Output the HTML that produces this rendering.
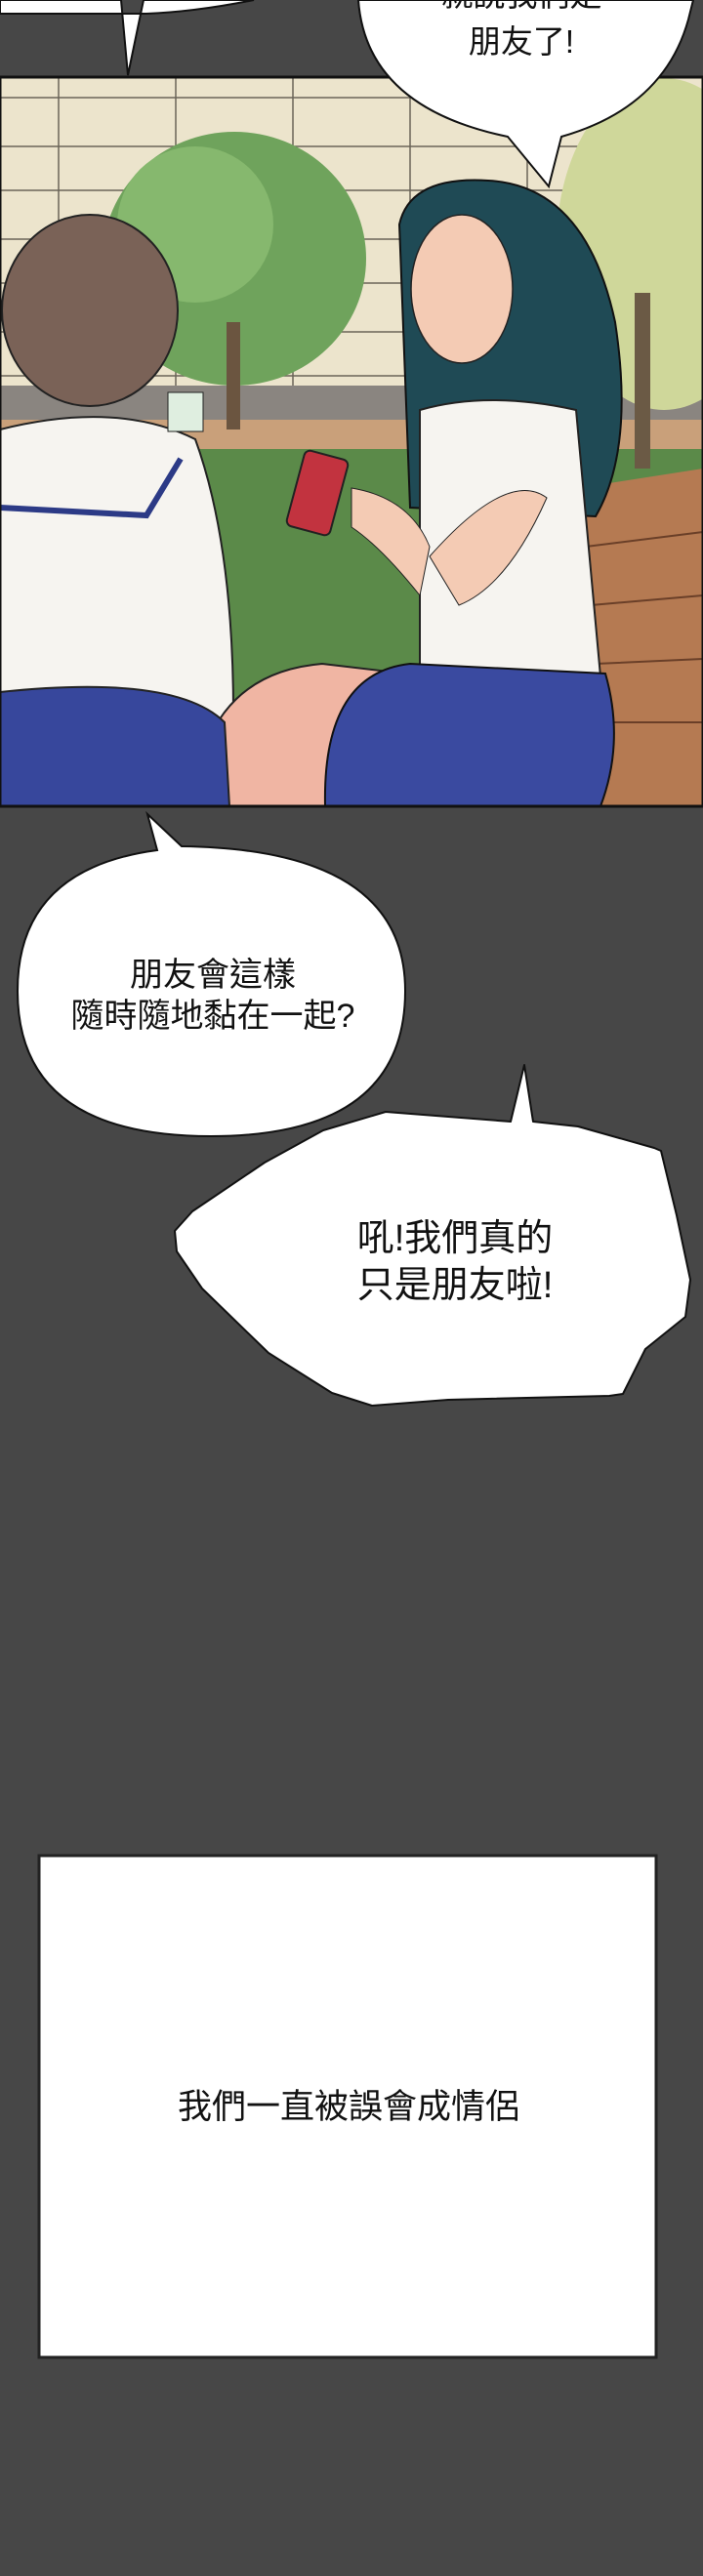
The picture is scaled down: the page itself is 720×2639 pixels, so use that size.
<!DOCTYPE html>
<html><head><meta charset="utf-8"><style>
html,body{margin:0;padding:0;background:#474747;}
body{width:720px;height:2639px;position:relative;overflow:hidden;font-family:"Liberation Sans","Noto Sans CJK TC",sans-serif;}
svg{position:absolute;left:0;top:0;}
</style></head><body>
<svg width="720" height="2639" viewBox="0 0 720 2639">
<rect width="720" height="2639" fill="#474747"/>
<!-- top speech bubble left fragment -->
<path d="M0,0 L124,0 L131,77 L147,0 L260,0 Q200,12 150,14 L0,14 Z" fill="#fff" stroke="#111" stroke-width="2"/>
<!-- panel 1 illustration -->
<g>
<rect x="0" y="79" width="720" height="747" fill="#ece4cc"/>
<g stroke="#6b6558" stroke-width="1.5" fill="none">
<path d="M0,100 H720 M0,150 H720 M0,195 H720 M0,245 H720 M0,290 H720 M0,340 H720 M0,385 H720"/>
<path d="M60,79 V420 M180,79 V420 M300,79 V420 M420,79 V420 M540,79 V420 M660,79 V420"/>
</g>
<rect x="0" y="395" width="720" height="40" fill="#8a8580"/>
<rect x="0" y="430" width="720" height="30" fill="#c9a07a"/>
<rect x="0" y="460" width="720" height="366" fill="#5b8a49"/>
<ellipse cx="240" cy="265" rx="135" ry="130" fill="#6fa35c"/>
<ellipse cx="200" cy="230" rx="80" ry="80" fill="#86b86e"/>
<rect x="232" y="330" width="14" height="110" fill="#6b5540"/>
<ellipse cx="680" cy="250" rx="110" ry="170" fill="#cfd79a"/>
<rect x="650" y="300" width="16" height="180" fill="#6b5a45"/>
<path d="M592,500 L720,480 L720,826 L600,826 Z" fill="#b57a52"/>
<path d="M600,560 L720,545 M605,620 L720,610 M610,680 L720,675 M615,740 L720,740" stroke="#6a3f28" stroke-width="2"/>
<!-- left girl -->
<path d="M0,440 Q120,410 200,450 Q240,560 239,741 L0,741 Z" fill="#f6f4f0" stroke="#222" stroke-width="2"/>
<path d="M0,520 L150,528 L185,470" stroke="#2c3a86" stroke-width="6" fill="none"/>
<ellipse cx="92" cy="318" rx="90" ry="98" fill="#7a6257" stroke="#222" stroke-width="2"/>
<path d="M197,826 Q210,690 330,680 L415,690 L420,826 Z" fill="#f0b5a3" stroke="#222" stroke-width="2"/>
<path d="M0,709 Q180,690 230,740 L235,826 L0,826 Z" fill="#37479c" stroke="#222" stroke-width="2"/>
<rect x="172" y="402" width="36" height="40" fill="#dfeee0" stroke="#222"/>
<!-- right girl -->
<path d="M409,230 Q420,180 500,185 Q600,190 630,330 Q650,460 610,529 L420,520 Z" fill="#1f4a55" stroke="#111" stroke-width="2"/>
<ellipse cx="473" cy="296" rx="52" ry="76" fill="#f4cbb4" stroke="#222" stroke-width="1.5"/>
<path d="M430,420 Q500,400 590,420 L615,693 L430,693 Z" fill="#f6f4f0" stroke="#222" stroke-width="2"/>
<path d="M333,826 Q330,690 420,680 L620,690 Q640,760 615,826 Z" fill="#3a4aa0" stroke="#111" stroke-width="2"/>
<path d="M360,500 Q420,510 440,560 L430,610 Q390,560 360,540 Z" fill="#f4cbb4" stroke="#222"/>
<path d="M440,570 Q520,480 560,510 Q520,600 470,620 Z" fill="#f4cbb4" stroke="#222"/>
<rect x="302" y="465" width="46" height="80" rx="6" fill="#c2333f" stroke="#222" stroke-width="2" transform="rotate(15 325 505)"/>
</g>
<rect x="0" y="79" width="720" height="747" fill="none" stroke="#111" stroke-width="3"/>
<!-- top-right bubble -->
<path d="M367,0 Q375,110 520,140 L562,191 L575,140 Q680,110 705,20 L710,0 Z" fill="#fff" stroke="#111" stroke-width="2"/>
<text x="534" y="6" font-size="33" text-anchor="middle" fill="#111" font-family="Liberation Sans, Noto Sans CJK TC, sans-serif">就說我們是</text>
<text x="534" y="54" font-size="33" text-anchor="middle" fill="#111" font-family="Liberation Sans, Noto Sans CJK TC, sans-serif">朋友了!</text>
<!-- bubble 2 -->
<path d="M161,871 L151,834 L186,867 Q415,870 415,1015 Q415,1164 216,1164 Q18,1164 18,1015 Q18,890 161,871 Z" fill="#fff" stroke="#111" stroke-width="2"/>
<text x="218" y="1010" font-size="34" text-anchor="middle" fill="#111" font-family="Liberation Sans, Noto Sans CJK TC, sans-serif">朋友會這樣</text>
<text x="218" y="1052" font-size="34" text-anchor="middle" fill="#111" font-family="Liberation Sans, Noto Sans CJK TC, sans-serif">隨時隨地黏在一起?</text>
<!-- bubble 3 -->
<path d="M179,1261 L197,1241 L271,1191 L331,1158 L395,1139 L523,1149 L537,1091 L546,1149 L592,1154 L670,1176 L677,1179 L693,1245 L707,1311 L702,1349 L661,1382 L638,1428 L624,1430 L459,1434 L381,1440 L340,1427 L275,1386 L207,1320 L181,1282 Z" fill="#fff" stroke="#111" stroke-width="2" stroke-linejoin="round"/>
<text x="466" y="1281" font-size="38" text-anchor="middle" fill="#111" font-family="Liberation Sans, Noto Sans CJK TC, sans-serif">吼!我們真的</text>
<text x="466" y="1329" font-size="38" text-anchor="middle" fill="#111" font-family="Liberation Sans, Noto Sans CJK TC, sans-serif">只是朋友啦!</text>
<!-- panel 4 -->
<rect x="40" y="1901" width="632" height="514" fill="#fff" stroke="#222" stroke-width="3"/>
<text x="357" y="2170" font-size="35" text-anchor="middle" fill="#111" font-family="Liberation Sans, Noto Sans CJK TC, sans-serif">我們一直被誤會成情侶</text>
</svg>
</body></html>
